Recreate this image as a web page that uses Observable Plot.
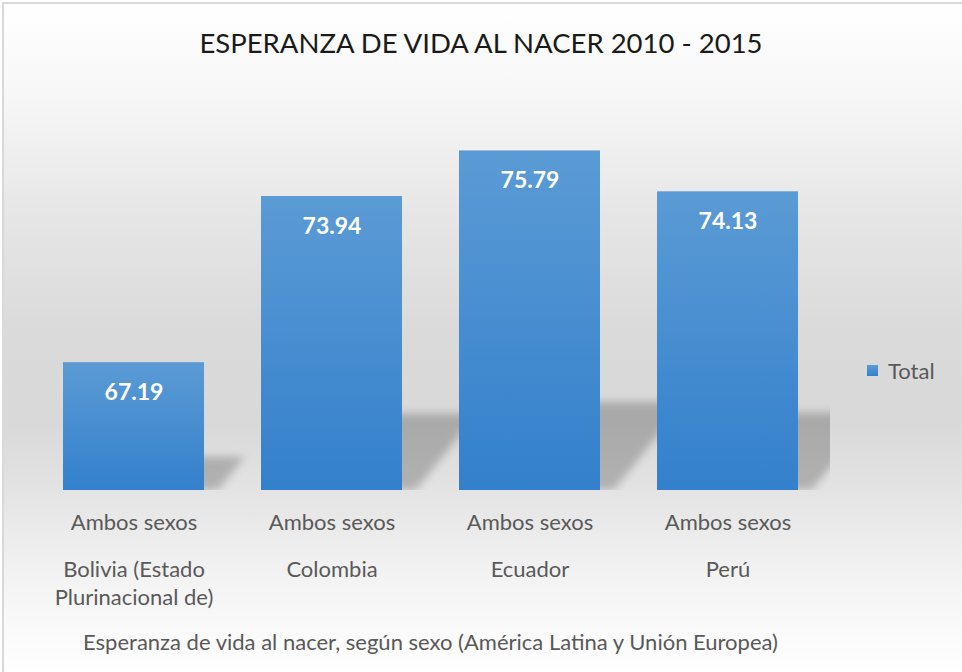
<!DOCTYPE html>
<html lang="es">
<head>
<meta charset="utf-8">
<script src="https://cdn.jsdelivr.net/npm/d3@7"></script>
<script src="https://cdn.jsdelivr.net/npm/@observablehq/plot@0.6"></script>
<style>
  html, body { margin: 0; padding: 0; background: #ffffff; }
  #chart { position: relative; width: 962px; height: 672px; overflow: hidden; background: #ffffff; font-family: Lato, "Open Sans", sans-serif; }
  #fondo { position: absolute; left: 2px; top: 2px; width: 980px; height: 700px;
    border-left: 2px solid #d9d9d9; border-top: 2px solid #d9d9d9;
    background: linear-gradient(to bottom, #ffffff 0px, #f7f7f7 90px, #e6e6e6 210px, #dadada 330px, #d9d9d9 420px, #e4e4e4 490px, #f1f1f1 560px, #fafafa 630px, #ffffff 670px); }
  #plot { position: absolute; left: 0; top: 0; }
  #titulo { position: absolute; left: 0; top: 29px; width: 962px; text-align: center; font-size: 27.5px; line-height: 28px; color: #1a1a1a; font-weight: 400; white-space: nowrap; }
  #leyenda { position: absolute; left: 867px; top: 357px; height: 26px; display: flex; align-items: center; gap: 10px; font-size: 22px; color: #595959; }
  #leyenda .sw { width: 11px; height: 11px; background: linear-gradient(to bottom, #5b9bd5, #3380cc); }
</style>
</head>
<body>
<svg width="0" height="0" style="position:absolute">
  <defs>
    <linearGradient id="gradBarra" x1="0" y1="0" x2="0" y2="1">
      <stop offset="0" stop-color="#5b9bd5"/>
      <stop offset="1" stop-color="#3380cc"/>
    </linearGradient>
    <filter id="desenfoque" x="-30%" y="-60%" width="160%" height="220%">
      <feGaussianBlur stdDeviation="4"/>
    </filter>
  </defs>
</svg>
<div id="chart">
  <div id="fondo"></div>
  <div id="plot"></div>
  <div id="titulo">ESPERANZA DE VIDA AL NACER 2010 - 2015</div>
  <div id="leyenda"><span class="sw"></span><span>Total</span></div>
</div>
<script>
// ---- Datos ----
const paises = ["Bolivia (Estado Plurinacional de)", "Colombia", "Ecuador", "Perú"];
const etiquetasPais = ["Bolivia (Estado\nPlurinacional de)", "Colombia", "Ecuador", "Perú"];
const sexos = ["Ambos sexos", "Ambos sexos", "Ambos sexos", "Ambos sexos"];
const valores = [67.19, 73.94, 75.79, 74.13];
const dominioY = [62, 78];
const serie = "Total";
const subtitulo = "Esperanza de vida al nacer, según sexo (América Latina y Unión Europea)";

const datos = paises.map((p, i) => ({ pais: p, etiqueta: etiquetasPais[i], sexo: sexos[i], valor: valores[i] }));
const base = dominioY[0];

// Sombra en perspectiva: se deriva de cada barra y se inclina desde la base
function sombra(index, scales, values, dims, context, next) {
  const g = next(index, scales, values, dims, context);
  const yb = scales.y(base);
  g.setAttribute("filter", "url(#desenfoque)");
  g.querySelectorAll("rect").forEach(r => {
    r.setAttribute("transform", `translate(14,0) translate(0,${yb}) skewX(-38.66) translate(0,${-yb})`);
  });
  return g;
}

const plot = Plot.plot({
  width: 962,
  height: 672,
  marginTop: 96,
  marginBottom: 182,
  marginLeft: 30,
  marginRight: 132,
  style: { background: "transparent", fontFamily: "Lato, 'Open Sans', sans-serif", fontSize: "22px", color: "#595959" },
  x: { domain: paises, paddingInner: 0.289, paddingOuter: 0.161, axis: null },
  y: { domain: dominioY, axis: null },
  marks: [
    Plot.barY(datos, { x: "pais", y1: base, y2: d => base + (d.valor - base) * 0.26, fill: "#000", fillOpacity: 0.22, clip: true, render: sombra }),
    Plot.barY(datos, { x: "pais", y1: base, y2: "valor", fill: "url(#gradBarra)" }),
    Plot.text(datos, { x: "pais", y: "valor", text: d => d3.format(".2f")(d.valor), fill: "#ffffff", fontWeight: "bold", fontSize: 23, lineAnchor: "top", dy: 21 }),
    Plot.text(datos, { x: "pais", text: "sexo", frameAnchor: "bottom", lineAnchor: "top", dy: 24, fontSize: 22, fill: "#595959" }),
    Plot.text(datos, { x: "pais", text: "etiqueta", frameAnchor: "bottom", lineAnchor: "top", dy: 66, fontSize: 22, lineHeight: 1.3, fill: "#595959" }),
    Plot.text([subtitulo], { text: d => d, frameAnchor: "bottom", lineAnchor: "top", dy: 144, fontSize: 22, fill: "#595959" })
  ]
});

document.getElementById("plot").appendChild(plot);
</script>
</body>
</html>
